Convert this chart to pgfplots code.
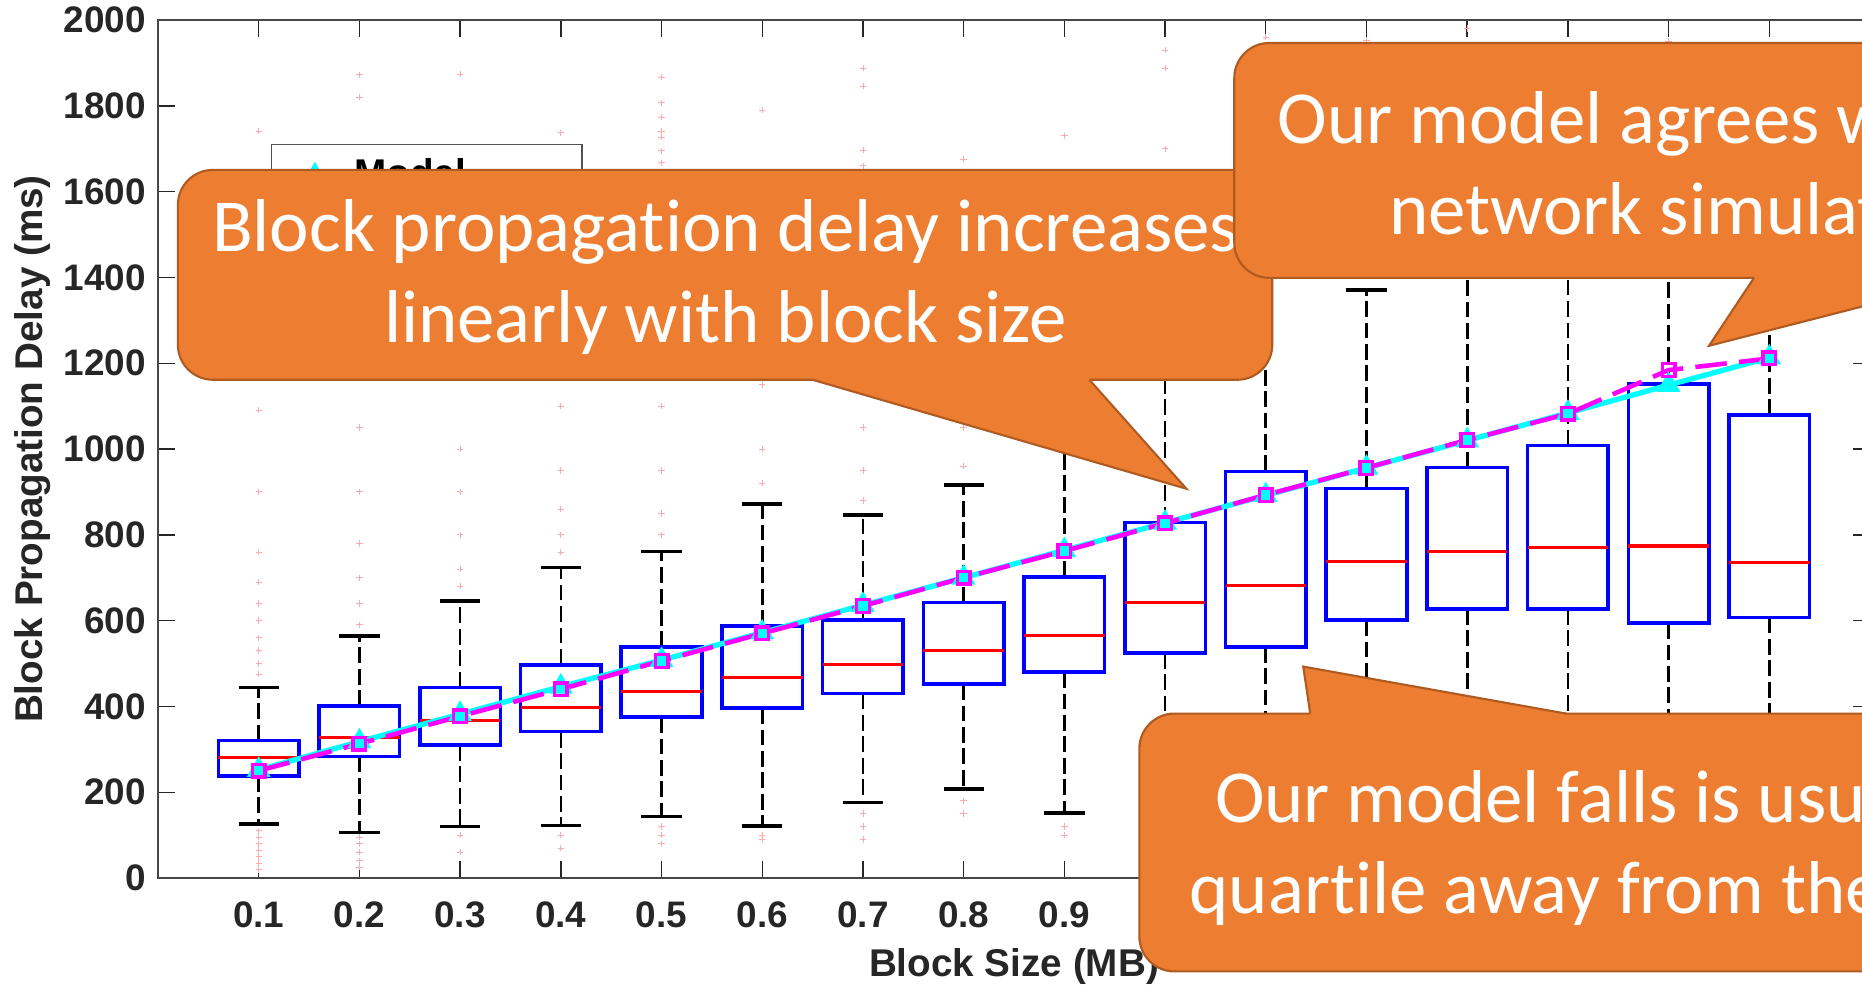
\documentclass[border=0pt]{standalone}
\usepackage{pgfplots}
\pgfplotsset{compat=1.18}
\usepackage{fontspec}
\setmainfont{Liberation Sans}
\newfontfamily\calibri[Ligatures=NoCommon]{Carlito}
\definecolor{callfill}{HTML}{ED7D31}
\definecolor{callline}{HTML}{AE5A21}
\definecolor{axgray}{HTML}{262626}
\definecolor{mcyan}{RGB}{0,255,255}
\definecolor{mmag}{RGB}{255,0,255}
\definecolor{mblue}{RGB}{0,0,255}
\definecolor{mred}{RGB}{255,0,0}
\definecolor{mpink}{RGB}{255,170,170}

\pgfplotsset{
  wh/.style={black, line width=0.75pt, dash pattern=on 4.5pt off 1.6pt, forget plot},
  cap/.style={black, line width=1pt, solid, forget plot},
  bxs/.style={mblue, line width=1pt, solid, forget plot},
  med/.style={mred, line width=0.9pt, solid, forget plot},
}
% box: position, lower whisker, Q1, median, Q3, upper whisker
\newcommand{\bx}[6]{%
  \pgfmathsetmacro\bxl{#1-0.04}\pgfmathsetmacro\bxr{#1+0.04}%
  \pgfmathsetmacro\cxl{#1-0.02}\pgfmathsetmacro\cxr{#1+0.02}%
  \addplot[wh] coordinates {(#1,#5) (#1,#6)};
  \addplot[wh] coordinates {(#1,#3) (#1,#2)};
  \addplot[cap] coordinates {(\cxl,#6) (\cxr,#6)};
  \addplot[cap] coordinates {(\cxl,#2) (\cxr,#2)};
  \addplot[bxs] coordinates {(\bxl,#3) (\bxr,#3) (\bxr,#5) (\bxl,#5)} -- cycle;
  \addplot[med] coordinates {(\bxl,#4) (\bxr,#4)};
}

\begin{document}
\begin{tikzpicture}
\useasboundingbox (0,0) rectangle (18.62cm,9.84cm);
\clip (0,0) rectangle (18.62cm,9.84cm);
\begin{axis}[
  at={(1.58cm,1.06cm)}, anchor=south west,
  scale only axis, width=17.12cm, height=8.58cm,
  xmin=0, xmax=1.7, ymin=0, ymax=2000,
  xtick={0.1,0.2,0.3,0.4,0.5,0.6,0.7,0.8,0.9,1.0,1.1,1.2,1.3,1.4,1.5,1.6},
  xticklabels={0.1,0.2,0.3,0.4,0.5,0.6,0.7,0.8,0.9,1,1.1,1.2,1.3,1.4,1.5,1.6},
  ytick={0,200,400,600,800,1000,1200,1400,1600,1800,2000},
  yticklabels={0,200,400,600,800,1000,1200,1400,1600,1800,2000},
  tick align=inside, major tick length=0.17cm,
  tick style={draw=axgray, line width=0.4pt},
  axis line style={draw=axgray!85, line width=0.6pt},
  ticklabel style={font=\bfseries\fontsize{10.5}{12}\selectfont, text=axgray},
  xticklabel style={yshift=-0.11cm},
  xlabel={Block Size (MB)}, ylabel={Block Propagation Delay (ms)},
  every axis x label/.style={at={(axis description cs:0.5,-0.1037)}, anchor=center,
    font=\bfseries\fontsize{11}{13}\selectfont, text=axgray},
  every axis y label/.style={at={(axis description cs:-0.073,0.5)}, anchor=center, rotate=90,
    font=\bfseries\fontsize{11}{13}\selectfont, text=axgray},
  legend style={at={(axis description cs:0.066,0.8555)}, anchor=north west, draw=axgray!80,
    font=\bfseries\fontsize{11}{13}\selectfont, legend cell align=left},
]
% outliers
\addplot[only marks, mark=+, mark size=0.9pt, mark options={draw=mpink, line width=0.25pt}, forget plot]
  coordinates {
  (0.1,110) (0.1,95) (0.1,80) (0.1,65) (0.1,50) (0.1,35) (0.1,20) (0.1,475) (0.1,500) (0.1,530)
  (0.1,560) (0.1,600) (0.1,640) (0.1,690) (0.1,760) (0.1,900) (0.1,1091) (0.1,1300) (0.1,1741)
  (0.2,95) (0.2,80) (0.2,60) (0.2,40) (0.2,25) (0.2,590) (0.2,640) (0.2,700) (0.2,780) (0.2,900)
  (0.2,1050) (0.2,1300) (0.2,1550) (0.2,1820) (0.2,1872)
  (0.3,100) (0.3,60) (0.3,680) (0.3,720) (0.3,800) (0.3,900) (0.3,1000) (0.3,1200) (0.3,1420) (0.3,1874)
  (0.4,100) (0.4,70) (0.4,760) (0.4,800) (0.4,860) (0.4,950) (0.4,1100) (0.4,1300) (0.4,1737)
  (0.5,120) (0.5,100) (0.5,80) (0.5,800) (0.5,850) (0.5,950) (0.5,1100) (0.5,1300) (0.5,1520)
  (0.5,1667) (0.5,1695) (0.5,1727) (0.5,1741) (0.5,1774) (0.5,1807) (0.5,1867)
  (0.6,100) (0.6,90) (0.6,920) (0.6,1000) (0.6,1150) (0.6,1300) (0.6,1500) (0.6,1790)
  (0.7,150) (0.7,120) (0.7,90) (0.7,880) (0.7,950) (0.7,1050) (0.7,1200) (0.7,1400) (0.7,1660)
  (0.7,1697) (0.7,1846) (0.7,1888)
  (0.8,180) (0.8,150) (0.8,960) (0.8,1050) (0.8,1200) (0.8,1400) (0.8,1676)
  (0.9,120) (0.9,100) (0.9,1060) (0.9,1150) (0.9,1300) (0.9,1500) (0.9,1730)
  (1.0,100) (1.0,1350) (1.0,1700) (1.0,1888) (1.0,1930)
  (1.1,110) (1.1,1650) (1.1,1800) (1.1,1960)
  (1.2,120) (1.2,1500) (1.2,1700) (1.2,1953)
  (1.3,130) (1.3,1600) (1.3,1800) (1.3,1980)
  (1.4,130) (1.4,1700) (1.4,1900)
  (1.5,140) (1.5,1950)
  (1.6,150) (1.6,1850)
  };
% boxes: position, lower whisker, Q1, median, Q3, upper whisker
\bx{0.1}{126}{238}{280}{320}{444}
\bx{0.2}{106}{283}{328}{401}{564}
\bx{0.3}{120}{310}{367}{444}{646}
\bx{0.4}{122}{341}{398}{497}{724}
\bx{0.5}{143}{375}{435}{538}{761}
\bx{0.6}{121}{396}{468}{587}{872}
\bx{0.7}{176}{430}{497}{601}{846}
\bx{0.8}{207}{452}{530}{642}{916}
\bx{0.9}{151}{480}{566}{702}{1030}
\bx{1.0}{140}{525}{642}{829}{1250}
\bx{1.1}{150}{539}{682}{948}{1450}
\bx{1.2}{160}{601}{737}{908}{1371}
\bx{1.3}{170}{627}{761}{957}{1440}
\bx{1.4}{170}{627}{770}{1008}{1500}
\bx{1.5}{180}{594}{774}{1152}{1700}
\bx{1.6}{190}{607}{735}{1079}{1600}
% Model
\addplot[mcyan, line width=1.5pt, mark=triangle*, mark size=2.4pt, mark options={solid, fill=mcyan, draw=mcyan}]
  coordinates {(0.1,252) (0.2,318) (0.3,382) (0.4,446) (0.5,508) (0.6,572) (0.7,636) (0.8,700)
               (0.9,764) (1.0,828) (1.1,892) (1.2,956) (1.3,1020) (1.4,1084) (1.5,1149) (1.6,1213)};
\addlegendentry{\makebox[2.1cm][l]{Model}}
% Simulation mean
\addplot[mmag, line width=1.3pt, dash pattern=on 9pt off 3.5pt, mark=square, mark size=1.8pt, mark options={solid, draw=mmag, line width=0.95pt}]
  coordinates {(0.1,250) (0.2,313) (0.3,377) (0.4,440) (0.5,506) (0.6,570) (0.7,634) (0.8,700)
               (0.9,762) (1.0,827) (1.1,893) (1.2,956) (1.3,1021) (1.4,1082) (1.5,1184) (1.6,1211)};
\addlegendentry{Simulation}
\end{axis}
\begin{scope}[x=0.01cm, y=-0.01cm, shift={(0cm,9.84cm)}]
  % Callout 1
  \draw[fill=callfill, draw=callline, line width=0.6pt, rounded corners=0.35cm] (178,170) rectangle (1273,380);
  \fill[callfill] (813,380) -- (1187,489) -- (1090,380) -- (1090,372) -- (813,372) -- cycle;
  \draw[callline, line width=0.6pt] (813,380) -- (1187,489) -- (1090,380);
  \node[text=white, font=\calibri\fontsize{21.3}{25.9}\selectfont, align=center] at (726,277)
    {Block propagation delay increases\\linearly with block size};
  % Callout 2
  \draw[fill=callfill, draw=callline, line width=0.6pt, rounded corners=0.35cm] (1235,43) rectangle (2123,278);
  \fill[callfill] (1755,278) -- (1710,346) -- (1975,278) -- (1975,270) -- (1755,270) -- cycle;
  \draw[callline, line width=0.6pt] (1755,278) -- (1710,346) -- (1975,278);
  \node[text=white, font=\calibri\fontsize{21.3}{25.9}\selectfont, align=center] at (1685,163)
    {Our model agrees with the\\network simulation};
  % Callout 3
  \draw[fill=callfill, draw=callline, line width=0.6pt, rounded corners=0.35cm] (1140,714) rectangle (2168,972);
  \fill[callfill] (1311,714) -- (1304,667) -- (1567,714) -- (1567,722) -- (1311,722) -- cycle;
  \draw[callline, line width=0.6pt] (1311,714) -- (1304,667) -- (1567,714);
  \node[text=white, font=\calibri\fontsize{21.3}{25.9}\selectfont, align=center] at (1660,849)
    {Our model falls is usually one\\quartile away from the median};
\end{scope}
\end{tikzpicture}
\end{document}
